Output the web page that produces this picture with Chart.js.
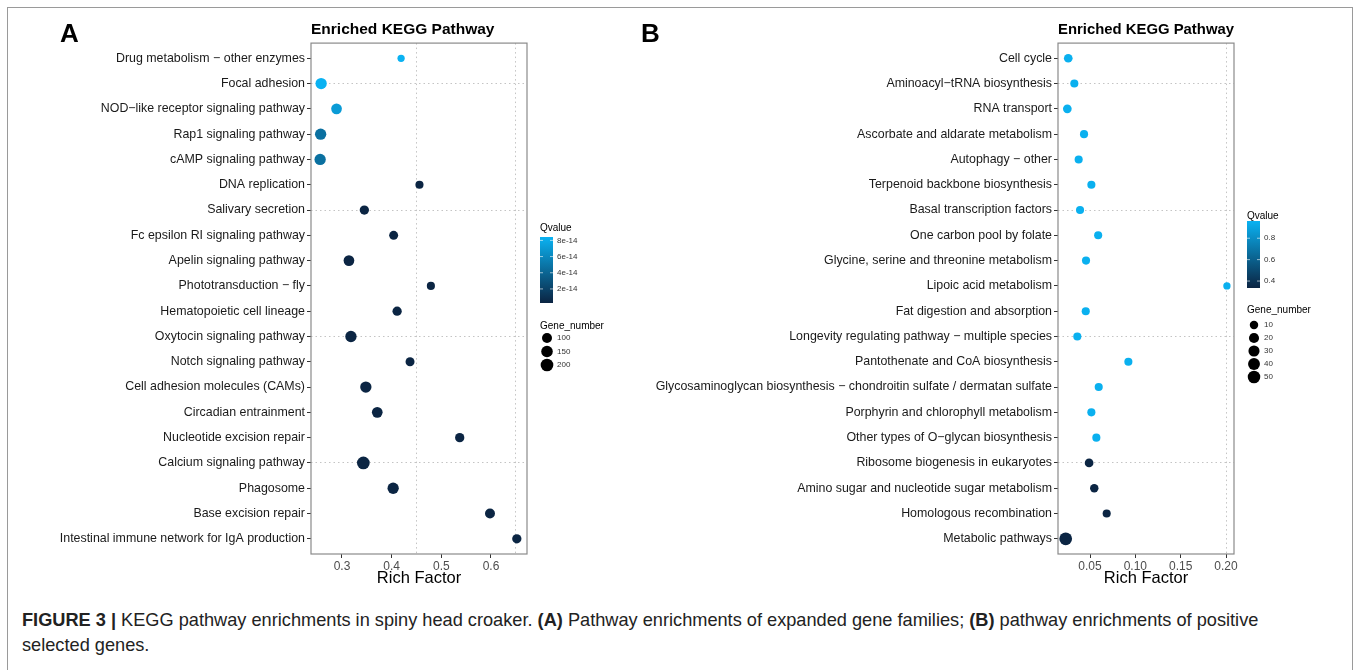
<!DOCTYPE html>
<html>
<head>
<meta charset="utf-8">
<script src="https://cdn.jsdelivr.net/npm/chart.js@4.4.1/dist/chart.umd.min.js"></script>
<style>
  body { margin: 0; background: #fff; width: 1356px; height: 670px; overflow: hidden; position: relative; font-family: "Liberation Sans", Arial, sans-serif; }
  #frame { position: absolute; left: 7px; top: 7px; width: 1344px; height: 700px; border: 1px solid #9a9a9a; }
  #wrapA { position: absolute; left: 0; top: 0; }
  #wrapB { position: absolute; left: 620px; top: 0; }
  .tag { position: absolute; top: 20px; font: bold 26px/26px "Liberation Sans", Arial, sans-serif; color: #000; }
  #caption { position: absolute; left: 22px; top: 608px; font: 18.2px/25px "Liberation Sans", Arial, sans-serif; color: #222; }
</style>
</head>
<body>
<div id="frame"></div>
<div id="wrapA"><canvas id="chartA" width="620" height="600"></canvas></div>
<div id="wrapB"><canvas id="chartB" width="736" height="600"></canvas></div>
<div class="tag" style="left:60px">A</div>
<div class="tag" style="left:641px">B</div>
<div id="caption"><b>FIGURE 3 |</b> KEGG pathway enrichments in spiny head croaker. <b>(A)</b> Pathway enrichments of expanded gene families; <b>(B)</b> pathway enrichments of positive<br>selected genes.</div>

<script>
// ---- panel A: expanded gene families ----
const pathwaysA = [
  'Drug metabolism \u2212 other enzymes', 'Focal adhesion', 'NOD\u2212like receptor signaling pathway',
  'Rap1 signaling pathway', 'cAMP signaling pathway', 'DNA replication', 'Salivary secretion',
  'Fc epsilon RI signaling pathway', 'Apelin signaling pathway', 'Phototransduction \u2212 fly',
  'Hematopoietic cell lineage', 'Oxytocin signaling pathway', 'Notch signaling pathway',
  'Cell adhesion molecules (CAMs)', 'Circadian entrainment', 'Nucleotide excision repair',
  'Calcium signaling pathway', 'Phagosome', 'Base excision repair',
  'Intestinal immune network for IgA production'
];
const richA = [0.419, 0.258, 0.289, 0.257, 0.256, 0.456, 0.345, 0.404, 0.314, 0.479,
               0.411, 0.318, 0.437, 0.348, 0.371, 0.537, 0.343, 0.403, 0.598, 0.652];
const qvalueA = [8.4e-14, 8.4e-14, 7.1e-14, 4.6e-14, 4.6e-14, 0.3e-14, 0.3e-14, 0.3e-14, 0.3e-14, 0.3e-14,
                 0.3e-14, 0.3e-14, 0.3e-14, 0.3e-14, 0.3e-14, 0.3e-14, 0.3e-14, 0.3e-14, 0.3e-14, 0.3e-14];
const genesA = [67, 140, 120, 140, 140, 70, 85, 80, 120, 70,
                85, 140, 80, 140, 120, 85, 200, 140, 100, 85];
const xTicksA = [0.3, 0.4, 0.5, 0.6];
const xGridA = [0.45, 0.65];
const xRangeA = [0.2376, 0.6725];
const qTicksA = [2e-14, 4e-14, 6e-14, 8e-14];
const qTickLabelsA = ['2e-14', '4e-14', '6e-14', '8e-14'];
const qLimitsA = [0.26e-14, 8.42e-14];
const sizeBreaksA = [100, 150, 200];
const sizeLimitsA = [67, 200];

// ---- panel B: positive selected genes ----
const pathwaysB = [
  'Cell cycle', 'Aminoacyl\u2212tRNA biosynthesis', 'RNA transport', 'Ascorbate and aldarate metabolism',
  'Autophagy \u2212 other', 'Terpenoid backbone biosynthesis', 'Basal transcription factors',
  'One carbon pool by folate', 'Glycine, serine and threonine metabolism', 'Lipoic acid metabolism',
  'Fat digestion and absorption', 'Longevity regulating pathway \u2212 multiple species',
  'Pantothenate and CoA biosynthesis',
  'Glycosaminoglycan biosynthesis \u2212 chondroitin sulfate / dermatan sulfate',
  'Porphyrin and chlorophyll metabolism', 'Other types of O\u2212glycan biosynthesis',
  'Ribosome biogenesis in eukaryotes', 'Amino sugar and nucleotide sugar metabolism',
  'Homologous recombination', 'Metabolic pathways'
];
const richB = [0.026, 0.0327, 0.025, 0.0434, 0.0375, 0.0515, 0.039, 0.059, 0.0456, 0.201,
               0.0453, 0.036, 0.0923, 0.0596, 0.0515, 0.057, 0.049, 0.0547, 0.0684, 0.0232];
const qvalueB = [0.95, 0.95, 0.95, 0.95, 0.95, 0.95, 0.95, 0.95, 0.95, 0.95,
                 0.95, 0.95, 0.95, 0.95, 0.95, 0.95, 0.34, 0.34, 0.34, 0.34];
const genesB = [11, 9, 11, 9, 9, 9, 9, 9, 9, 8,
                9, 9, 9, 9, 9, 9, 11, 10, 9, 53];
const xTicksB = [0.05, 0.10, 0.15, 0.20];
const xGridB = [0.20];
const xRangeB = [0.0147, 0.2088];
const qTicksB = [0.4, 0.6, 0.8];
const qTickLabelsB = ['0.4', '0.6', '0.8'];
const qLimitsB = [0.335, 0.961];
const sizeBreaksB = [10, 20, 30, 40, 50];
const sizeLimitsB = [8, 53];

const FONT = '"Liberation Sans", Arial, sans-serif';
Chart.defaults.font.family = FONT;

const LOW = [11, 36, 66];
const HIGH = [10, 178, 242];

function qColor(q, lim) {
  let t = (q - lim[0]) / (lim[1] - lim[0]);
  t = Math.max(0, Math.min(1, t));
  const c = LOW.map((v, i) => Math.round(v + (HIGH[i] - v) * t));
  return 'rgb(' + c.join(',') + ')';
}

function dotRadius(n, lim) {
  let t = (n - lim[0]) / (lim[1] - lim[0]);
  t = Math.max(0, Math.min(1, t));
  return (7.3 + 5.4 * Math.sqrt(t)) / 2;
}

function makePanel(id, p) {
  const frame = {
    id: 'frame_' + id,
    afterDraw(chart) {
      const a = chart.chartArea;
      const c = chart.ctx;
      c.save();
      c.strokeStyle = '#8a8a8a';
      c.lineWidth = 1.2;
      c.strokeRect(a.left, a.top, a.right - a.left, a.bottom - a.top);
      c.restore();
    }
  };

  const keys = {
    id: 'keys_' + id,
    afterDraw(chart) {
      const L = p.legend;
      const c = chart.ctx;
      c.save();
      c.textAlign = 'left';
      c.textBaseline = 'middle';
      c.fillStyle = '#000';
      c.font = '10px ' + FONT;
      c.fillText('Qvalue', L.x, L.titleY);
      const g = c.createLinearGradient(0, L.barBottom, 0, L.barTop);
      g.addColorStop(0, 'rgb(' + LOW.join(',') + ')');
      g.addColorStop(1, 'rgb(' + HIGH.join(',') + ')');
      c.fillStyle = g;
      c.fillRect(L.x, L.barTop, 13, L.barBottom - L.barTop);
      c.font = '8px ' + FONT;
      p.qTicks.forEach((q, i) => {
        const y = L.barBottom - (q - p.qLim[0]) / (p.qLim[1] - p.qLim[0]) * (L.barBottom - L.barTop);
        c.strokeStyle = 'rgba(255,255,255,0.6)';
        c.lineWidth = 1;
        c.beginPath();
        c.moveTo(L.x, y); c.lineTo(L.x + 3, y);
        c.moveTo(L.x + 10, y); c.lineTo(L.x + 13, y);
        c.stroke();
        c.fillStyle = '#333';
        c.fillText(p.qLabels[i], L.x + 17, y);
      });
      c.fillStyle = '#000';
      c.font = '10px ' + FONT;
      c.fillText('Gene_number', L.x, L.sizeTitleY);
      p.sizeBreaks.forEach((n, i) => {
        const y = L.sizeY0 + i * L.sizeStep;
        c.fillStyle = '#000';
        c.beginPath();
        c.arc(L.x + 7, y, dotRadius(n, p.sizeLim), 0, Math.PI * 2);
        c.fill();
        c.fillStyle = '#333';
        c.font = '8px ' + FONT;
        c.fillText(String(n), L.x + 17, y);
      });
      c.restore();
    }
  };

  const xAll = p.xTicks.concat(p.xGrid.filter(v => !p.xTicks.includes(v))).sort((a, b) => a - b);
  const has = (arr, v) => arr.some(w => Math.abs(w - v) < 1e-9);

  return new Chart(document.getElementById(id).getContext('2d'), {
    type: 'scatter',
    data: {
      datasets: [{
        data: p.rich.map((v, i) => ({ x: v, y: i })),
        pointRadius: p.genes.map(n => dotRadius(n, p.sizeLim)),
        pointHoverRadius: p.genes.map(n => dotRadius(n, p.sizeLim)),
        pointBackgroundColor: p.q.map(q => qColor(q, p.qLim)),
        pointBorderWidth: 0
      }]
    },
    options: {
      responsive: false,
      animation: false,
      layout: { padding: { left: 0, right: p.padRight, top: 0, bottom: 12 } },
      plugins: {
        legend: { display: false },
        tooltip: { enabled: false },
        title: {
          display: true,
          text: 'Enriched KEGG Pathway',
          align: 'start',
          fullSize: false,
          color: '#000',
          font: { size: 15.5, weight: 'bold', lineHeight: 1.2 },
          padding: { top: 20.5, bottom: 4 }
        }
      },
      scales: {
        x: {
          type: 'linear',
          min: p.xRange[0],
          max: p.xRange[1],
          afterBuildTicks: s => { s.ticks = xAll.map(v => ({ value: v })); },
          afterFit: s => { s.height = 34; },
          ticks: {
            autoSkip: false,
            maxRotation: 0,
            padding: 1,
            color: '#4d4d4d',
            font: { size: 12 },
            callback: v => has(p.xTicks, v) ? v.toFixed(p.digits) : ''
          },
          grid: {
            color: ctx => (ctx.tick && has(p.xGrid, ctx.tick.value)) ? '#c4c4c4' : 'rgba(0,0,0,0)',
            tickColor: ctx => (ctx.tick && has(p.xTicks, ctx.tick.value)) ? '#333' : 'rgba(0,0,0,0)',
            tickLength: 4,
            tickBorderDash: []
          },
          border: { display: false, dash: [1.5, 3] },
          title: {
            display: true,
            text: 'Rich Factor',
            color: '#000',
            font: { size: 16.5 },
            padding: { top: 0, bottom: 0 }
          }
        },
        y: {
          type: 'linear',
          reverse: true,
          min: -0.6,
          max: p.names.length - 0.4,
          afterBuildTicks: s => { s.ticks = p.names.map((_, i) => ({ value: i })); },
          afterFit: s => { s.width = p.axisWidth; },
          ticks: {
            autoSkip: false,
            padding: 2,
            color: '#1a1a1a',
            font: { size: 12.4 },
            callback: v => p.names[v]
          },
          grid: {
            color: ctx => (ctx.tick && ctx.tick.value % 5 === 1) ? '#c4c4c4' : 'rgba(0,0,0,0)',
            tickColor: '#333',
            tickLength: 4,
            tickBorderDash: []
          },
          border: { display: false, dash: [1.5, 3] }
        }
      }
    },
    plugins: [frame, keys]
  });
}

makePanel('chartA', {
  names: pathwaysA, rich: richA, q: qvalueA, genes: genesA,
  xTicks: xTicksA, xGrid: xGridA, xRange: xRangeA, digits: 1,
  qTicks: qTicksA, qLabels: qTickLabelsA, qLim: qLimitsA,
  sizeBreaks: sizeBreaksA, sizeLim: sizeLimitsA,
  axisWidth: 311, padRight: 93,
  legend: { x: 540, titleY: 228, barTop: 237, barBottom: 303, sizeTitleY: 326, sizeY0: 338, sizeStep: 13.5 }
});

makePanel('chartB', {
  names: pathwaysB, rich: richB, q: qvalueB, genes: genesB,
  xTicks: xTicksB, xGrid: xGridB, xRange: xRangeB, digits: 2,
  qTicks: qTicksB, qLabels: qTickLabelsB, qLim: qLimitsB,
  sizeBreaks: sizeBreaksB, sizeLim: sizeLimitsB,
  axisWidth: 438, padRight: 122,
  legend: { x: 627, titleY: 216, barTop: 221, barBottom: 288, sizeTitleY: 310, sizeY0: 325, sizeStep: 13 }
});
</script>
</body>
</html>
